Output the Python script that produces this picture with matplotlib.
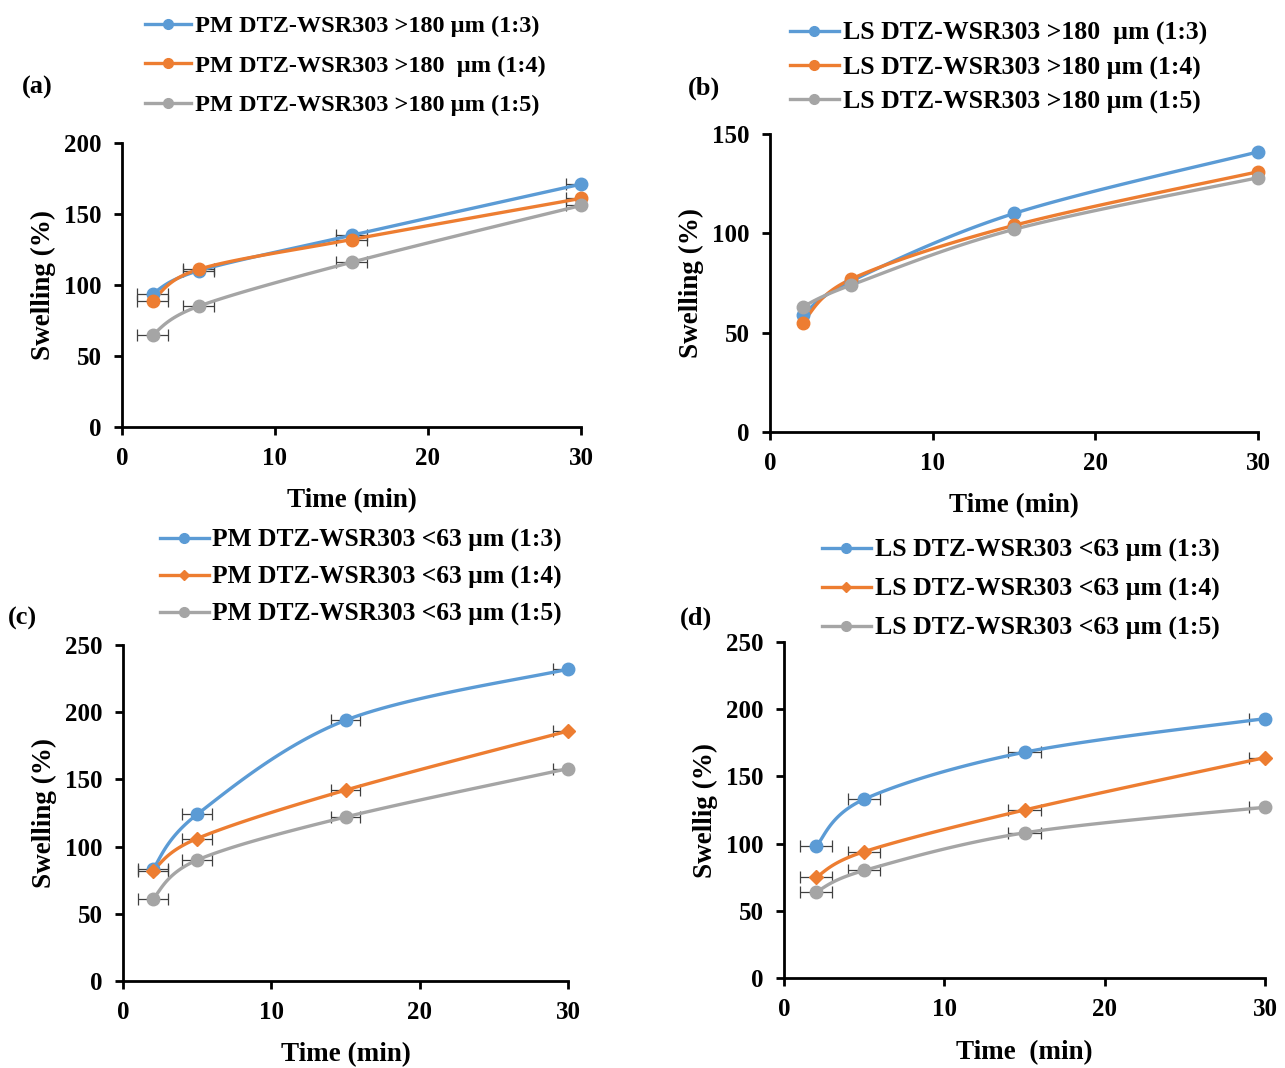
import numpy as np
import matplotlib
matplotlib.use("Agg")
import matplotlib.pyplot as plt
from matplotlib.lines import Line2D

plt.rcParams['font.family'] = ['Liberation Serif', 'DejaVu Serif']
plt.rcParams['font.weight'] = 'bold'

BLUE = '#5B9BD5'
ORANGE = '#ED7D31'
GRAY = '#A5A5A5'

time_min = [2, 5, 15, 30]

# (a) physical mixtures, >180 um
a_13 = [94, 110, 135, 171]
a_14 = [89, 111, 132, 161]
a_15 = [65, 85, 116, 156]
a_labels = ['PM DTZ-WSR303 >180 µm (1:3)',
            'PM DTZ-WSR303 >180  µm (1:4)',
            'PM DTZ-WSR303 >180 µm (1:5)']

# (b) liquisolid, >180 um
b_13 = [59, 76, 110, 141]
b_14 = [55, 77, 104, 131]
b_15 = [63, 74, 102, 128]
b_labels = ['LS DTZ-WSR303 >180  µm (1:3)',
            'LS DTZ-WSR303 >180 µm (1:4)',
            'LS DTZ-WSR303 >180 µm (1:5)']

# (c) physical mixtures, <63 um
c_13 = [83, 124, 194, 232]
c_14 = [82, 106, 142, 186]
c_15 = [61, 90, 122, 158]
c_labels = ['PM DTZ-WSR303 <63 µm (1:3)',
            'PM DTZ-WSR303 <63 µm (1:4)',
            'PM DTZ-WSR303 <63 µm (1:5)']

# (d) liquisolid, <63 um
d_13 = [98, 133, 168, 193]
d_14 = [75, 94, 125, 164]
d_15 = [64, 80, 108, 127]
d_labels = ['LS DTZ-WSR303 <63 µm (1:3)',
            'LS DTZ-WSR303 <63 µm (1:4)',
            'LS DTZ-WSR303 <63 µm (1:5)']

time_err = [1, 1, 1, 1]


def smooth(x, y, n=30):
    # Catmull-Rom style curve through the points (spreadsheet "smoothed line")
    x = np.asarray(x, float)
    y = np.asarray(y, float)
    px = np.concatenate([[x[0]], x, [x[-1]]])
    py = np.concatenate([[y[0]], y, [y[-1]]])
    xs, ys = [], []
    t = np.linspace(0, 1, n)
    for i in range(1, len(px) - 2):
        p0, p1, p2, p3 = [np.array([px[j], py[j]]) for j in (i - 1, i, i + 1, i + 2)]
        c1 = p1 + (p2 - p0) / 6.0
        c2 = p2 - (p3 - p1) / 6.0
        pts = ((1 - t) ** 3)[:, None] * p1 + (3 * (1 - t) ** 2 * t)[:, None] * c1 \
            + (3 * (1 - t) * t ** 2)[:, None] * c2 + (t ** 3)[:, None] * p2
        xs.extend(pts[:, 0])
        ys.extend(pts[:, 1])
    return np.array(xs), np.array(ys)


def panel(fig, rect, series, labels, ymax, tag, tag_xy, leg_xy, leg_space,
          markers, ylabel='Swelling (%)', xlabel='Time (min)', errs=True,
          ylabel_pad=6, xlabel_pad=13, leg_size=17.5):
    ax = fig.add_axes(rect)
    colors = [BLUE, ORANGE, GRAY]
    handles = []
    for ys, c, m in zip(series, colors, markers):
        sx, sy = smooth(time_min, ys)
        ax.plot(sx, sy, color=c, lw=2.4, zorder=3, clip_on=False)
        if errs:
            ax.errorbar(time_min, ys, xerr=time_err, fmt='none', ecolor='#404040',
                        elinewidth=0.9, capsize=4, capthick=0.9, zorder=2)
        ms = 9 if m == 'o' else 7
        ax.plot(time_min, ys, ls='none', marker=m, ms=ms, color=c,
                zorder=4, clip_on=False)
        handles.append(Line2D([], [], color=c, lw=2.4, marker=m, ms=ms - 2))
    ax.set_xlim(0, 30)
    ax.set_ylim(0, ymax)
    ax.set_xticks([0, 10, 20, 30])
    ax.set_yticks(np.arange(0, ymax + 1, 50))
    for s in ('top', 'right'):
        ax.spines[s].set_visible(False)
    for s in ('left', 'bottom'):
        ax.spines[s].set_linewidth(2)
    ax.tick_params(direction='out', length=5.5, width=2, labelsize=18, pad=9)
    ax.set_xlabel(xlabel, fontsize=19.5, fontweight='bold', labelpad=xlabel_pad)
    ax.set_ylabel(ylabel, fontsize=19.5, fontweight='bold', labelpad=ylabel_pad)
    fig.text(tag_xy[0], tag_xy[1], tag, fontsize=19, fontweight='bold',
             ha='left', va='center')
    fig.legend(handles, labels, loc='upper left', bbox_to_anchor=leg_xy,
               bbox_transform=fig.transFigure, frameon=False, fontsize=leg_size,
               handlelength=1.9, handletextpad=0.15, labelspacing=leg_space,
               borderpad=0, borderaxespad=0)
    return ax


W, H = 1285, 1068
fig = plt.figure(figsize=(W / 100, H / 100), dpi=100)


def r(x0, x1, y_top, y_bot):
    return [x0 / W, 1 - y_bot / H, (x1 - x0) / W, (y_bot - y_top) / H]


panel(fig, r(122, 581, 143, 427), [a_13, a_14, a_15], a_labels, 200, '(a)',
      (22 / W, 1 - 87 / H), (145 / W, 1 - 15 / H), 0.72, ['o', 'o', 'o'],
      leg_size=17.5)
panel(fig, r(770, 1258, 134, 432), [b_13, b_14, b_15], b_labels, 150, '(b)',
      (688 / W, 1 - 88 / H), (790 / W, 1 - 22 / H), 0.42, ['o', 'o', 'o'],
      errs=False, leg_size=18.5)
panel(fig, r(123, 568, 645, 981), [c_13, c_14, c_15], c_labels, 250, '(c)',
      (8 / W, 1 - 618 / H), (160 / W, 1 - 529 / H), 0.53, ['o', 'D', 'o'],
      leg_size=18.4)
panel(fig, r(784, 1265, 642, 978), [d_13, d_14, d_15], d_labels, 250, '(d)',
      (680 / W, 1 - 618 / H), (822 / W, 1 - 539 / H), 0.6, ['o', 'D', 'o'],
      ylabel='Swellig (%)', xlabel='Time  (min)', xlabel_pad=14, leg_size=18.5)

fig.savefig('out.png', dpi=100)
